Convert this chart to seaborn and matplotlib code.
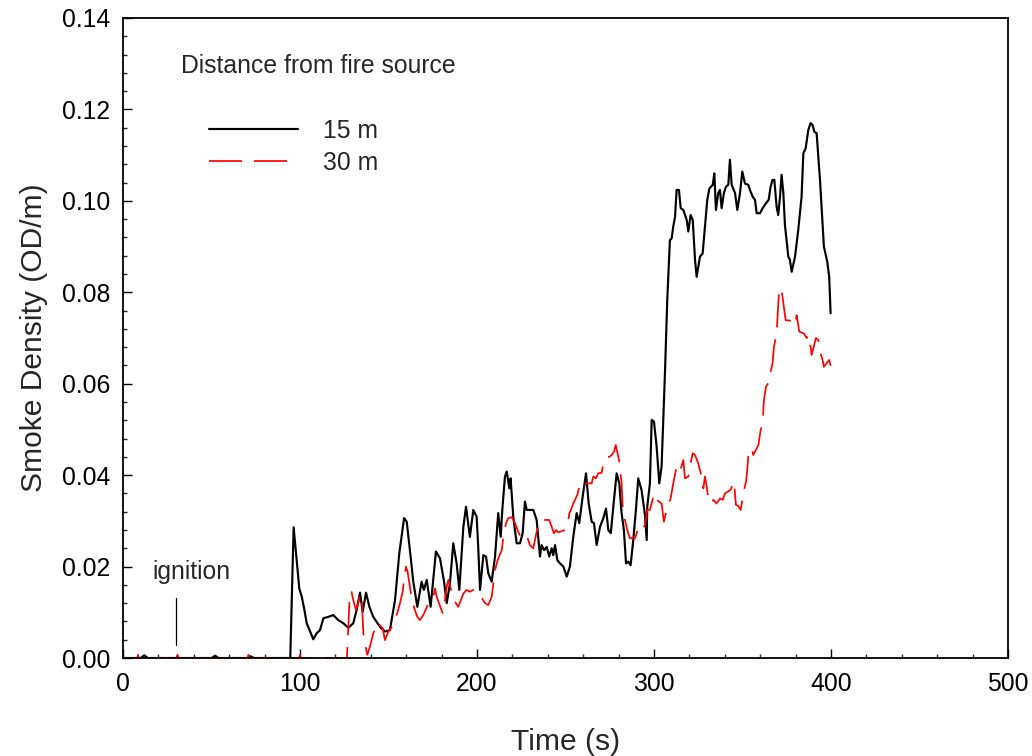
import numpy as np
import pandas as pd
import matplotlib
matplotlib.use("Agg")
import matplotlib.pyplot as plt
from matplotlib.ticker import MultipleLocator, FormatStrFormatter
import seaborn as sns

# ---------------- data ----------------
t15 = [0, 10, 12, 14, 20, 30, 40, 50, 52, 54, 60, 70, 72, 74, 80, 90, 94.5, 96.4, 99.6, 101, 102.3, 103.8,
       107.5, 109.4, 111.3, 113.2, 116, 118.8, 121.6, 124.5, 127.3, 130.1, 132, 133.9, 135.4, 137.3,
       139.2, 141.4, 145.2, 148, 150.8, 153.7, 156.1, 158.8, 160.3, 162.1, 164, 166.3, 168.7, 170,
       171.6, 173.8, 176.8, 179.1, 181.4, 182.9, 184.7, 186.6, 188.5, 190, 192.3, 193.8, 196, 197.9,
       199.8, 200.7, 201.7, 203.6, 205.1, 206.4, 208.3, 210.2, 212, 213.4, 214.3, 215.8, 216.8, 218.3,
       219, 220.5, 222.4, 224.3, 225.8, 227.1, 228.1, 231.8, 233.7, 235.6, 236.5, 237.9, 239.4, 240.8,
       242.2, 243.1, 244.1, 245.4, 246.9, 248.8, 250.7, 252.5, 254.4, 256.3, 257.8, 259.7, 261.6,
       263.1, 264.8, 266.1, 267.6, 269.5, 271.4, 272.9, 274.2, 275.6, 277.4, 278.9, 280.4, 281.7, 283,
       284.2, 285.5, 286.8, 288.3, 289.8, 291.1, 293, 294.9, 295.9, 296.2, 297.7, 298.7, 300, 301.5,
       303, 304.3, 306.2, 307.5, 309, 310, 310.9, 311.9, 312.8, 314.1, 315.1, 316.6, 318.5, 319.4,
       320.7, 321.9, 323.2, 324.1, 326, 327.5, 328.8, 330.1, 331.3, 333.2, 334.1, 335, 336.3, 337.3,
       338.2, 339.5, 340.7, 342, 342.9, 343.9, 345.8, 347.1, 348.6, 349.9, 351.4, 353.3, 354.6, 355.8,
       357.1, 358, 359.9, 361.4, 363.3, 364.8, 365.9, 367, 368, 369.3, 370.2, 371.2, 372.1, 373.1,
       374, 375.9, 376.8, 377.8, 379.7, 381.5, 383.4, 384.4, 385.7, 387.2, 388.5, 389.6, 390.6,
       391.9, 393.8, 396, 397.9, 399, 399.8]
d15 = [0, 0, 0.0006, 0, 0, 0, 0, 0, 0.0005, 0, 0, 0, 0.0004, 0, 0, 0, 0, 0.0286, 0.0152, 0.0134, 0.0109,
       0.0076, 0.0041, 0.0054, 0.0061, 0.0087, 0.009, 0.0094, 0.0083, 0.0076, 0.0066, 0.0076, 0.0105,
       0.0143, 0.0101, 0.0143, 0.0112, 0.009, 0.0068, 0.0058, 0.0061, 0.0127, 0.0229, 0.0306, 0.0298,
       0.0236, 0.0167, 0.0112, 0.0167, 0.0149, 0.0171, 0.0112, 0.0233, 0.0218, 0.0167, 0.012, 0.0163,
       0.0251, 0.0207, 0.0149, 0.0287, 0.0331, 0.0265, 0.0324, 0.0309, 0.0243, 0.0149, 0.0225, 0.0222,
       0.0185, 0.0167, 0.0222, 0.0317, 0.0265, 0.0324, 0.0397, 0.0408, 0.0371, 0.0393, 0.0309, 0.0251,
       0.0251, 0.0273, 0.0342, 0.0324, 0.0324, 0.0302, 0.0222, 0.0247, 0.0236, 0.0243, 0.0222, 0.024,
       0.0225, 0.0247, 0.0214, 0.0207, 0.02, 0.0178, 0.02, 0.0265, 0.0317, 0.0295, 0.0353, 0.0404,
       0.0338, 0.0298, 0.0295, 0.0247, 0.0287, 0.0306, 0.0327, 0.028, 0.0273, 0.0346, 0.0404, 0.0382,
       0.0317, 0.028, 0.0207, 0.0211, 0.0203, 0.0258, 0.0324, 0.0393, 0.0367, 0.0313, 0.0258, 0.0331,
       0.0382, 0.0521, 0.0517, 0.0462, 0.0382, 0.0419, 0.0623, 0.0783, 0.0914, 0.0918, 0.0944, 0.0965,
       0.1024, 0.1024, 0.0984, 0.098, 0.0958, 0.0933, 0.0969, 0.0958, 0.0871, 0.0834, 0.0878, 0.0885,
       0.0944, 0.1002, 0.1027, 0.1035, 0.106, 0.098, 0.1017, 0.1024, 0.0984, 0.1017, 0.1031, 0.1035,
       0.109, 0.1035, 0.1017, 0.098, 0.1017, 0.1064, 0.1038, 0.1035, 0.102, 0.1009, 0.1002, 0.0973,
       0.0973, 0.0984, 0.0995, 0.1002, 0.1031, 0.1046, 0.1046, 0.0987, 0.0969, 0.1009, 0.1057, 0.1017,
       0.0947, 0.0878, 0.0871, 0.0845, 0.0878, 0.0936, 0.1009, 0.1104, 0.1115, 0.1155, 0.117, 0.1166,
       0.1151, 0.1148, 0.1046, 0.09, 0.0867, 0.0834, 0.0754]

t30 = [0, 8, 8.5, 9, 30, 30.8, 31.5, 38.5, 39.1, 39.7, 70.3, 70.9, 71.5, 99.4, 100, 100.6, 126.5,
       128.2, 129.1, 130.1, 131.6, 132.9, 133.9, 134.9, 135.8, 136.7, 138, 139.5, 141.4, 142.9, 143.7,
       145.2, 146.7, 148, 149.9, 152.7, 154.6, 156.5, 158, 158.8, 159.9, 160.8, 162.1, 163.1, 164.9,
       166.3, 167.8, 169.7, 173.4, 175, 176.3, 177.2, 180.6, 181.9, 182.9, 183.8, 185.7, 187.6, 189.4,
       192.3, 194.2, 196, 197.9, 199.8, 201.7, 204.5, 206.4, 208.3, 210.2, 212, 214, 214.9, 216.4,
       217.7, 219.6, 221.5, 223.3, 224.7, 227.1, 228.4, 229.9, 231.8, 233.7, 236, 238.4, 240.8, 242.2,
       243.5, 244.6, 246, 249.7, 251, 252.2, 253.1, 254.4, 256.7, 257.8, 259.2, 260.5, 261.6, 264.8,
       265.7, 267.2, 268.5, 270.4, 271.8, 273.3, 274.8, 276.1, 277.4, 278.4, 280.4, 281.7, 282.3,
       283.2, 284.9, 286.4, 289.3, 290.8, 292.1, 294, 294.9, 296.2, 297.7, 299.2, 300, 301.5, 304.3,
       305.6, 307.1, 309.4, 310.9, 312.8, 314.7, 316.6, 317.5, 319.4, 320.3, 321.9, 323.2, 325, 326.9,
       327.9, 328.8, 329.8, 330.7, 332.1, 333.5, 335.4, 337.3, 338.8, 340.1, 343.3, 345.2, 346.3,
       347.5, 349, 350.5, 352, 352.7, 353.3, 355.2, 356.1, 359, 360.3, 361.4, 362.1, 363.3, 364.6,
       365.5, 367, 367.8, 369.3, 370, 370.8, 372.1, 373.1, 374.4, 377, 379.1, 379.8, 380.6, 382.1,
       384.7, 386.3, 387.2, 388.5, 389.1, 391.5, 392.8, 393.8, 395.3, 396, 399, 399.8]
d30 = [0, 0, 0.0007, 0, 0, 0.0007, 0, 0, 0.0007, 0, 0, 0.0007, 0, 0, 0.0007, 0, 0,
       0.0145, 0.0145, 0.0127, 0.0105, 0.012, 0.0141, 0.0127, 0.0054, 0.0032, 0.0007, 0.0025, 0.0054,
       0.0068, 0.0061, 0.0072, 0.0065, 0.0039, 0.0058, 0.0072, 0.0094, 0.012, 0.0145, 0.0171, 0.02,
       0.0189, 0.0156, 0.013, 0.0105, 0.009, 0.0083, 0.0094, 0.0127, 0.013, 0.0152, 0.0134, 0.0098,
       0.0127, 0.0156, 0.0171, 0.0145, 0.0123, 0.0112, 0.0141, 0.0149, 0.0145, 0.0149, 0.0141, 0.0138,
       0.012, 0.0116, 0.0134, 0.0193, 0.0218, 0.0236, 0.0265, 0.0295, 0.0306, 0.0308, 0.0295, 0.0276,
       0.0265, 0.0258, 0.0265, 0.0247, 0.024, 0.0276, 0.0302, 0.0302, 0.0302, 0.0287, 0.0273, 0.028,
       0.0275, 0.028, 0.0287, 0.0317, 0.0324, 0.0338, 0.0357, 0.0375, 0.0378, 0.0371, 0.0382, 0.0382,
       0.0397, 0.0393, 0.0404, 0.0405, 0.0433, 0.044, 0.044, 0.0444, 0.0451, 0.0466, 0.043, 0.0382,
       0.0331, 0.0309, 0.028, 0.0262, 0.0262, 0.028, 0.0273, 0.0284, 0.0291, 0.0324, 0.0324, 0.0346,
       0.036, 0.0346, 0.0338, 0.0298, 0.0324, 0.0349, 0.0382, 0.0419, 0.0408, 0.0433, 0.0393, 0.0397,
       0.0419, 0.0448, 0.0444, 0.0426, 0.0397, 0.0371, 0.0397, 0.0375, 0.0349, 0.0338, 0.0346, 0.0338,
       0.0349, 0.0346, 0.036, 0.0368, 0.0386, 0.0335, 0.0333, 0.0324, 0.036, 0.0386, 0.0411, 0.0444,
       0.0459, 0.0444, 0.0466, 0.0499, 0.0513, 0.0564, 0.0594, 0.0601, 0.0619, 0.0645, 0.0681, 0.071,
       0.076, 0.0809, 0.0805, 0.0776, 0.0739, 0.0738, 0.0736, 0.0729, 0.075, 0.0714, 0.071, 0.07,
       0.0707, 0.0681, 0.0663, 0.07, 0.0696, 0.067, 0.0652, 0.0637, 0.0652, 0.0639]

series_labels = ["15 m", "30 m"]
legend_title = "Distance from fire source"
xlabel = "Time (s)"
ylabel = "Smoke Density (OD/m)"

# ---------------- plot ----------------
sns.set_style("ticks")
plt.rcParams["font.family"] = ["Liberation Sans", "DejaVu Sans"]

fig = plt.figure(figsize=(10.32, 7.56), dpi=100)
ax = fig.add_axes([0.1192, 0.1296, 0.8575, 0.8466])

df15 = pd.DataFrame({"Time": t15, "Density": d15})
df30 = pd.DataFrame({"Time": t30, "Density": d30})

sns.lineplot(data=df15, x="Time", y="Density", color="black", linewidth=1.55,
             label=series_labels[0], ax=ax, estimator=None, sort=False)
sns.lineplot(data=df30, x="Time", y="Density", color="#ff0000", linewidth=1.25,
             label=series_labels[1], ax=ax, estimator=None, sort=False)
ax.lines[1].set_dashes((19.0, 6.9))

ax.set_xlim(0, 500)
ax.set_ylim(0, 0.14)
ax.xaxis.set_major_locator(MultipleLocator(100))
ax.xaxis.set_minor_locator(MultipleLocator(20))
ax.yaxis.set_major_locator(MultipleLocator(0.02))
ax.yaxis.set_minor_locator(MultipleLocator(0.004))
ax.yaxis.set_major_formatter(FormatStrFormatter("%.2f"))

ax.tick_params(which="major", direction="in", length=6.5, width=1.0, labelsize=17.8,
               top=False, right=False, colors="black")
ax.tick_params(which="minor", direction="in", length=3.0, width=1.0, top=False, right=False)
ax.tick_params(axis="x", which="major", pad=10)
ax.tick_params(axis="y", which="major", pad=9)

for s in ax.spines.values():
    s.set_linewidth(1.3)
    s.set_color("black")

ax.set_xlabel(xlabel, fontsize=21.6, labelpad=23)
ax.set_ylabel(ylabel, fontsize=21.6, labelpad=10)

ax.text(32.8, 0.1295, legend_title, fontsize=17.8, va="center", ha="left")
ax.text(16.4, 0.0188, "ignition", fontsize=17.8, va="center", ha="left")
ax.plot([30.2, 30.2], [0.0028, 0.0131], color="black", linewidth=0.9)

leg = ax.legend(loc="upper left", bbox_to_anchor=(0.0972, 0.842), frameon=False,
                fontsize=17.8, handlelength=3.6, handletextpad=1.0, labelspacing=0.3,
                borderpad=0, borderaxespad=0)

fig.savefig("out.png", dpi=100)
